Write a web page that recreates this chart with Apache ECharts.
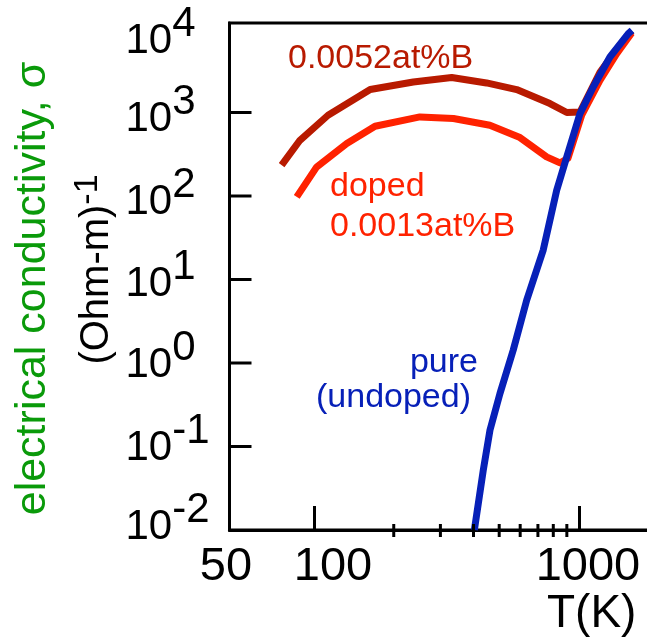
<!DOCTYPE html>
<html>
<head>
<meta charset="utf-8">
<script src="https://cdn.jsdelivr.net/npm/echarts@6/dist/echarts.min.js"></script>
<style>
  html, body { margin: 0; padding: 0; background: #fff; }
  #chart { width: 647px; height: 637px; }
</style>
</head>
<body>
<div id="chart"></div>
<script>
// temperature (K) and conductivity (Ohm-m)^-1
var heavyT     = [75.5, 88.5, 113, 163, 237, 331, 448, 582, 777, 900, 1009, 1200, 1380, 1581];
var heavySigma = [234, 465, 927, 1883, 2322, 2620, 2259, 1883, 1280, 1000, 1015, 3034, 5560, 9460];

var lightT     = [86.1, 102.4, 133, 170, 251, 336, 461, 599, 755, 848, 909, 1024, 1200, 1388, 1581];
var lightSigma = [97.5, 223, 425, 685, 885, 847, 704, 501, 294, 249, 283, 927, 2432, 5077, 8960];

var pureT     = [403, 435.5, 461.5, 503.5, 565, 635, 733, 824, 899, 1009, 1132, 1309, 1535, 1585];
var pureSigma = [0.01, 0.0522, 0.157, 0.433, 1.43, 5.66, 22.5, 117, 294, 971, 2023, 4624, 8810, 9640];

// axis stuff
var xLabelValues = [50, 100, 1000];
var minorTickT = [200, 300, 400, 500, 600, 700, 800, 900];
var yTickValues = [0.1, 1, 10, 100, 1000];   // no tick drawn at 10^4 in the original
var xMin = 48, xMax = 1936;
var yMin = 0.01, yMax = 11800;

var FONT = '"Liberation Sans", Arial, sans-serif';
var DARK_RED = '#b81a00', RED = '#ff2200', BLUE = '#0720b8', GREEN = '#0a9a0a';

// the hand-set y labels sit a bit below their ticks, by a different amount each
var yLabelShift = { '4': 12, '3': 7, '2': 6, '1': 5, '0': 2, '-1': 2, '-2': -3 };

function pairs(xs, ys) {
    return xs.map(function (x, i) { return [x, ys[i]]; });
}

function lineSeries(name, xs, ys, color) {
    return {
        name: name,
        type: 'line',
        data: pairs(xs, ys),
        showSymbol: false,
        smooth: false,
        lineStyle: { color: color, width: 7, join: 'round' },
        silent: true
    };
}

function richKey(e) {
    return String(e).replace('-', 'm');
}

function buildYRich() {
    var rich = {};
    Object.keys(yLabelShift).forEach(function (e) {
        var d = yLabelShift[e];
        var top = Math.max(2 * d, 0), bot = Math.max(-2 * d, 0);
        rich['b' + richKey(e)] = { fontSize: 42, lineHeight: 42, fontFamily: FONT, color: '#000', padding: [top, 0, bot, 0] };
        rich['s' + richKey(e)] = { fontSize: 42, lineHeight: 42, fontFamily: FONT, color: '#000', padding: [top, 0, 34 + bot, 0] };
    });
    return rich;
}

// short tick lines drawn through the axis scales
function tickSeries(data, draw) {
    return {
        type: 'custom',
        silent: true,
        clip: false,
        z: 10,
        data: data,
        renderItem: function (params, api) {
            var p = api.coord([api.value(0), api.value(1)]);
            return { type: 'line', shape: draw(p), style: { stroke: '#000', lineWidth: 3 } };
        }
    };
}

function note(text, x, y, color, align) {
    return {
        type: 'text', x: x, y: y,
        style: { text: text, fill: color, font: '34px ' + FONT, align: align, verticalAlign: 'middle' }
    };
}

var chart = echarts.init(document.getElementById('chart'));

chart.setOption({
    animation: false,
    grid: {
        left: 229.5, top: 23, width: 425.5, bottom: 107,
        containLabel: false,
        outerBoundsMode: 'none',
        show: true, borderColor: '#000', borderWidth: 3, backgroundColor: 'transparent'
    },
    xAxis: {
        type: 'log', logBase: 10, min: xMin, max: xMax,
        axisLine: { lineStyle: { color: '#000', width: 3 } },
        axisTick: { inside: true, length: 24, lineStyle: { color: '#000', width: 3 } },
        splitLine: { show: false },
        axisLabel: {
            margin: 14,
            color: '#000',
            fontFamily: FONT,
            fontSize: 47,
            hideOverlap: false,
            formatter: function (v) {
                if (v > 1500) return '';
                var best = 0;
                xLabelValues.forEach(function (lv, i) {
                    if (Math.abs(Math.log10(lv / v)) < Math.abs(Math.log10(xLabelValues[best] / v))) best = i;
                });
                return '{t' + best + '|' + xLabelValues[best] + '}';
            },
            rich: {
                t0: { fontSize: 47, fontFamily: FONT, color: '#000', padding: [0, 7, 0, 0] },
                t1: { fontSize: 47, fontFamily: FONT, color: '#000', padding: [0, 0, 0, 38] },
                t2: { fontSize: 47, fontFamily: FONT, color: '#000', padding: [0, 0, 0, 18] }
            }
        }
    },
    yAxis: {
        type: 'log', logBase: 10, min: yMin, max: yMax,
        axisLine: { lineStyle: { color: '#000', width: 3 } },
        axisTick: { show: false },
        splitLine: { show: false },
        axisLabel: {
            align: 'left',
            margin: 104,
            hideOverlap: false,
            formatter: function (v) {
                var e = Math.round(Math.log10(v));
                if (Math.abs(Math.log10(v) - e) > 0.01) return '';
                var k = richKey(e);
                return '{b' + k + '|10}{s' + k + '|' + e + '}';
            },
            rich: buildYRich()
        }
    },
    series: [
        lineSeries('0.0052at%B', heavyT, heavySigma, DARK_RED),
        lineSeries('0.0013at%B', lightT, lightSigma, RED),
        lineSeries('pure', pureT, pureSigma, BLUE),
        // small ticks between 100 and 1000, crossing the axis
        tickSeries(minorTickT.map(function (t) { return [t, yMin]; }), function (p) {
            return { x1: p[0], y1: p[1] - 6, x2: p[0], y2: p[1] + 7 };
        }),
        // y ticks, inside
        tickSeries(yTickValues.map(function (s) { return [xMin, s]; }), function (p) {
            return { x1: p[0], y1: p[1], x2: p[0] + 22, y2: p[1] };
        })
    ],
    graphic: [
        {
            type: 'text', x: 33, y: 288.5, rotation: Math.PI / 2,
            style: {
                text: 'electrical conductivity, σ', fill: GREEN,
                font: '43px ' + FONT, align: 'center', verticalAlign: 'middle'
            }
        },
        {
            type: 'text', x: 97, y: 269.5, rotation: Math.PI / 2,
            style: {
                text: '{m|(Ohm-m)}{s|-1}', align: 'center', verticalAlign: 'middle',
                rich: {
                    m: { fontSize: 40, lineHeight: 40, fontFamily: FONT, fill: '#000' },
                    s: { fontSize: 34, lineHeight: 34, fontFamily: FONT, fill: '#000', padding: [0, 0, 18, 0] }
                }
            }
        },
        {
            type: 'text', x: 547, y: 614,
            style: { text: 'T(K)', fill: '#000', font: '46px ' + FONT, align: 'left', verticalAlign: 'middle' }
        },
        note('0.0052at%B', 288, 59, DARK_RED, 'left'),
        note('doped', 330, 186.5, RED, 'left'),
        note('0.0013at%B', 330, 226.5, RED, 'left'),
        note('pure', 478, 363, BLUE, 'right'),
        note('(undoped)', 471, 398, BLUE, 'right')
    ]
});
</script>
</body>
</html>
